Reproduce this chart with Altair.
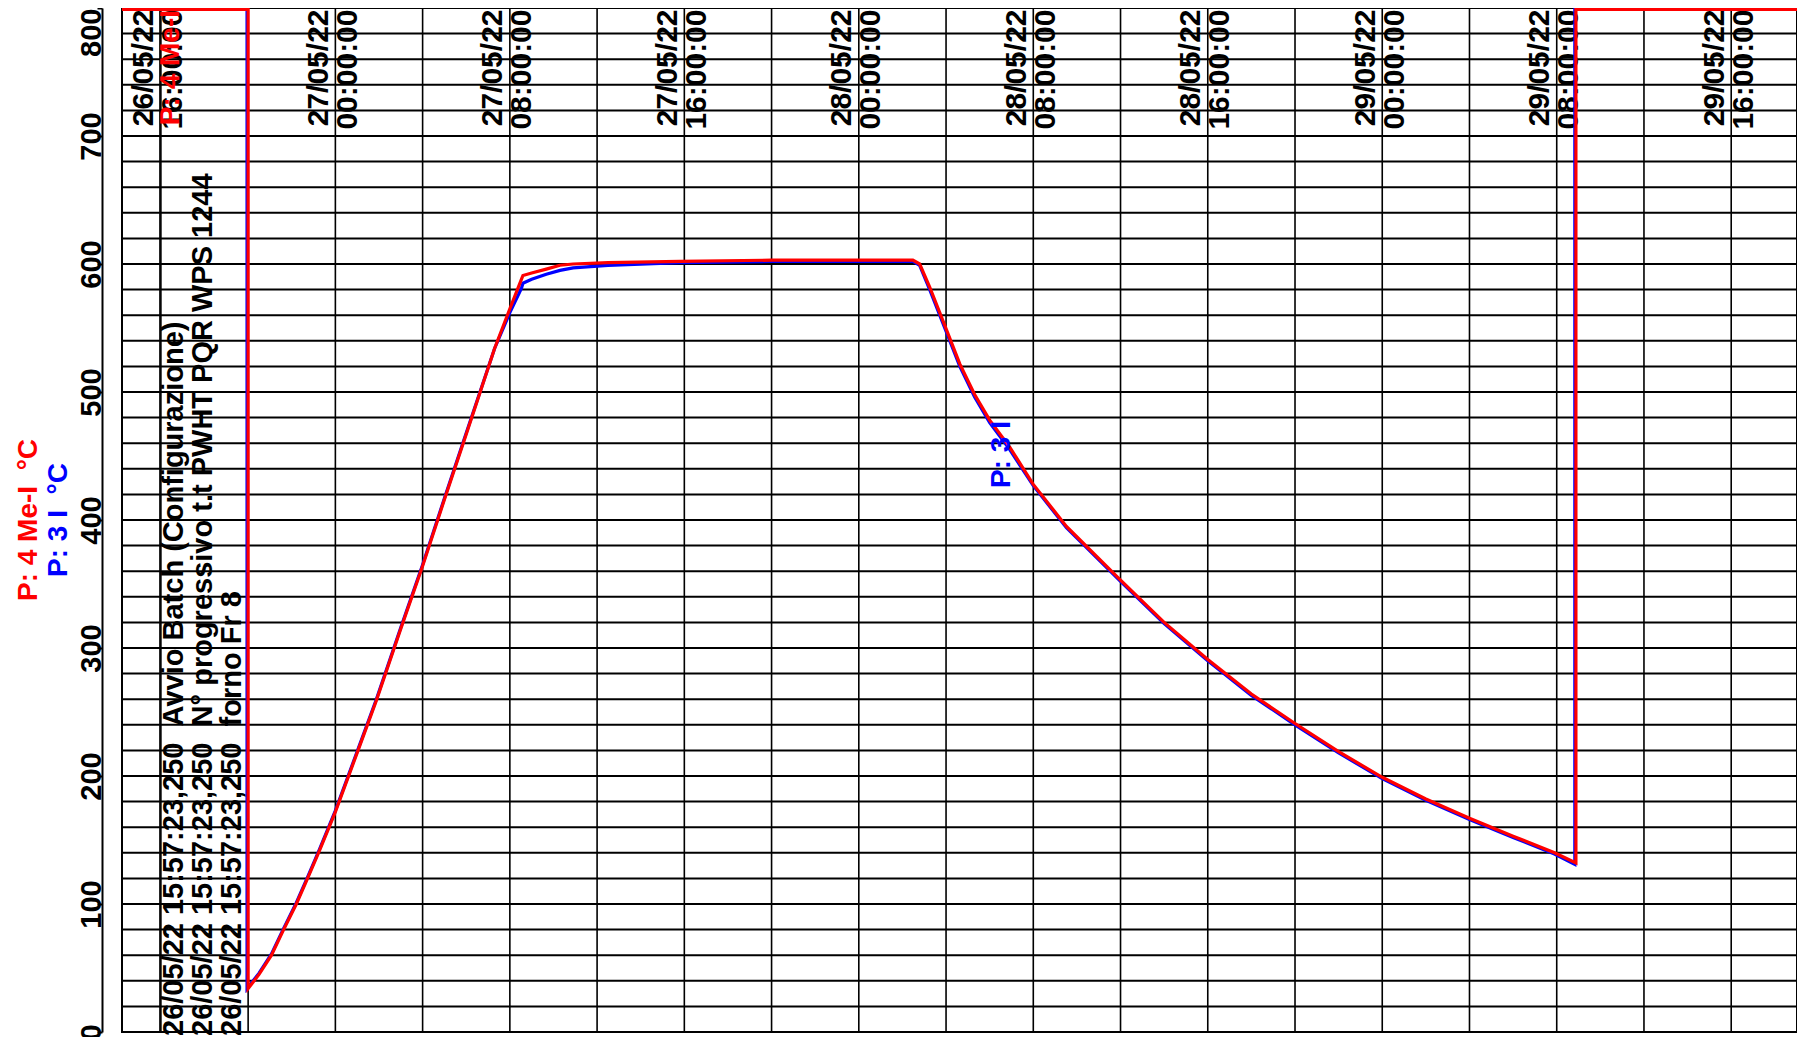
import altair as alt
import pandas as pd

FONT = "Liberation Sans"
RED = "#ff0000"
BLUE = "#0000ff"

# ---- data (hours relative to 27/05/22 00:00:00, temperatures in °C) ----
red_hours = [-9.8, -4.0, -4.0, -3.5, -2.93, -2.4, -1.79, -1.25, -0.72, 0.0,
             1.04, 1.88, 3.0, 4.0, 5.0, 6.0, 7.3, 8.0, 8.53, 8.6,
             9.0, 9.67, 10.3, 10.9, 12.5, 15.8, 20.0, 26.48, 26.79, 27.25,
             27.94, 28.63, 29.31, 30.0, 30.92, 31.99, 33.52, 36.0, 38.0, 40.0,
             42.0, 44.0, 46.0, 48.0, 50.0, 52.0, 54.0, 55.9, 56.88, 56.88,
             68.0]
red_temps = [799, 799, 34, 45, 60, 79, 100, 121, 142, 172,
             220, 259, 315, 364, 416, 467, 534, 565, 588, 591,
             593, 596, 599, 600, 601, 602, 603, 603, 600, 582,
             552, 522, 498, 478, 457, 428, 395, 353, 320, 291,
             264, 241, 219, 199, 182, 167, 153, 140, 132, 799,
             799]

blue_hours = [-9.8, -4.05, -4.05, -3.5, -2.93, -2.4, -1.79, -1.25, -0.72, 0.0,
              1.04, 1.88, 3.0, 4.0, 5.0, 6.0, 7.3, 8.0, 8.53, 8.6,
              9.0, 9.67, 10.3, 10.9, 12.5, 15.8, 20.0, 26.48, 26.79, 27.25,
              27.94, 28.63, 29.31, 30.0, 30.92, 31.99, 33.52, 36.0, 38.0, 40.0,
              42.0, 44.0, 46.0, 48.0, 50.0, 52.0, 54.0, 55.9, 56.83, 56.83,
              68.0]
blue_temps = [799, 799, 34, 46, 61, 80, 101, 122, 143, 173,
              221, 260, 316, 365, 417, 468, 534, 562, 581, 585,
              588, 592, 595, 597, 599, 601, 602, 602, 599, 580,
              550, 520, 496, 476, 455, 427, 394, 352, 319, 290,
              263, 240, 218, 198, 181, 166, 152, 139, 131, 799,
              799]

# grid / tick values
h_grid_values = list(range(0, 801, 20))
y_label_values = [0, 100, 200, 300, 400, 500, 600, 700, 800]
v_grid_times = ["2022-05-26T16:00:00", "2022-05-26T20:00:00",
                "2022-05-27T00:00:00", "2022-05-27T04:00:00", "2022-05-27T08:00:00",
                "2022-05-27T12:00:00", "2022-05-27T16:00:00", "2022-05-27T20:00:00",
                "2022-05-28T00:00:00", "2022-05-28T04:00:00", "2022-05-28T08:00:00",
                "2022-05-28T12:00:00", "2022-05-28T16:00:00", "2022-05-28T20:00:00",
                "2022-05-29T00:00:00", "2022-05-29T04:00:00", "2022-05-29T08:00:00",
                "2022-05-29T12:00:00", "2022-05-29T16:00:00"]
x_label_times = [(26, 16), (27, 0), (27, 8), (27, 16), (28, 0), (28, 8),
                 (28, 16), (29, 0), (29, 8), (29, 16)]

# event annotations
event_time = "2022-05-26T15:57:23"
event_lines = ["26/05/22 15:57:23,250 \u00a0Avvio Batch (Configurazione)",
               "26/05/22 15:57:23,250 \u00a0N° progressivo t.t PWHT PQR WPS 1244",
               "26/05/22 15:57:23,250 \u00a0forno Fr 8"]

# series labels
red_series_label = "P: 4 Me-I"
red_series_label_time = "2022-05-26T16:00:00"
red_series_label_value = 800
blue_series_label = "P: 3 I"
blue_series_label_time = "2022-05-28T06:35:00"
blue_series_label_value = 425
red_axis_title = "P: 4 Me-I \u00a0°C"
blue_axis_title = "P: 3 I \u00a0°C"

# ---- build tables ----
base = pd.Timestamp("2022-05-27 00:00:00")


def to_iso(hours):
    return [(base + pd.Timedelta(hours=h)).strftime("%Y-%m-%dT%H:%M:%S") for h in hours]


red_df = pd.DataFrame({"t": to_iso(red_hours), "v": red_temps, "i": list(range(len(red_hours)))})
blue_df = pd.DataFrame({"t": to_iso(blue_hours), "v": blue_temps, "i": list(range(len(blue_hours)))})
hgrid_df = pd.DataFrame({"v": h_grid_values})
vgrid_df = pd.DataFrame({"t": v_grid_times})
event_df = pd.DataFrame({"t": [event_time], "v": [0], "label": ["\n".join(event_lines)]})
red_lab_df = pd.DataFrame({"t": [red_series_label_time], "v": [red_series_label_value], "label": [red_series_label]})
blue_lab_df = pd.DataFrame({"t": [blue_series_label_time], "v": [blue_series_label_value], "label": [blue_series_label]})

xscale = alt.Scale(domain=[alt.DateTime(year=2022, month=5, date=26, hours=14, minutes=13),
                           alt.DateTime(year=2022, month=5, date=29, hours=19, minutes=1)])
yscale = alt.Scale(domain=[0, 800], nice=False, zero=False)

x_axis = alt.Axis(
    orient="top",
    values=[alt.DateTime(year=2022, month=5, date=d, hours=h) for d, h in x_label_times],
    labelExpr="[timeFormat(datum.value, '%d/%m/%y'), timeFormat(datum.value, '%H:%M:%S')]",
    labelAngle=-90,
    labelAlign="right",
    labelBaseline="middle",
    labelPadding=-1,
    labelOffset=-17,
    labelLineHeight=29,
    labelFont=FONT,
    labelFontSize=30,
    labelFontWeight="bold",
    labelColor="black",
    labelOverlap=False,
    labelBound=False,
    labelFlush=False,
    ticks=False,
    tickSize=0,
    domain=False,
    grid=False,
    title=None,
)

y_axis = alt.Axis(
    orient="left",
    values=y_label_values,
    offset=20,
    labelAngle=-90,
    labelAlign=alt.condition("datum.value >= 800", alt.value("right"), alt.value("center")),
    labelBaseline="alphabetic",
    labelPadding=-3,
    labelFont=FONT,
    labelFontSize=29,
    labelFontWeight="bold",
    labelColor="black",
    labelOverlap=False,
    labelBound=False,
    labelFlush=False,
    ticks=True,
    tickSize=5,
    tickWidth=2,
    tickColor="black",
    domain=True,
    domainColor="black",
    domainWidth=2,
    grid=False,
    title=None,
)

X = lambda: alt.X("t:T", scale=xscale, axis=x_axis)
Y = lambda: alt.Y("v:Q", scale=yscale, axis=y_axis)

hgrid = alt.Chart(hgrid_df).mark_rule(color="black", strokeWidth=2).encode(y=Y())
vgrid = alt.Chart(vgrid_df).mark_rule(color="black", strokeWidth=1.6).encode(x=X())
event_rule = alt.Chart(event_df).mark_rule(color="black", strokeWidth=1.6).encode(x=X())

blue_line = alt.Chart(blue_df).mark_line(color=BLUE, strokeWidth=3.2, clip=True).encode(
    x=X(), y=Y(), order="i:Q",
)
red_line = alt.Chart(red_df).mark_line(color=RED, strokeWidth=3.2, clip=True).encode(
    x=X(), y=Y(), order="i:Q",
)

event_text = alt.Chart(event_df).mark_text(
    angle=270, align="left", baseline="top", lineBreak="\n", lineHeight=29,
    font=FONT, fontSize=29, fontWeight="bold", color="black", dx=-4, dy=0,
).encode(x=X(), y=Y(), text="label:N")

red_label = alt.Chart(red_lab_df).mark_text(
    angle=270, align="right", baseline="top",
    font=FONT, fontSize=28, fontWeight="bold", color=RED, dx=-2, dy=-4,
).encode(x=X(), y=Y(), text="label:N")

blue_label = alt.Chart(blue_lab_df).mark_text(
    angle=270, align="left", baseline="middle",
    font=FONT, fontSize=28, fontWeight="bold", color=BLUE,
).encode(x=X(), y=Y(), text="label:N")

title_red = alt.Chart(pd.DataFrame({"label": [red_axis_title]})).mark_text(
    angle=270, align="center", baseline="middle",
    font=FONT, fontSize=28, fontWeight="bold", color=RED,
).encode(x=alt.value(-93), y=alt.value(512), text="label:N")

title_blue = alt.Chart(pd.DataFrame({"label": [blue_axis_title]})).mark_text(
    angle=270, align="center", baseline="middle",
    font=FONT, fontSize=28, fontWeight="bold", color=BLUE,
).encode(x=alt.value(-63), y=alt.value(512), text="label:N")

chart = alt.layer(
    hgrid, vgrid, event_rule, blue_line, red_line,
    event_text, red_label, blue_label, title_red, title_blue,
).properties(
    width=1675,
    height=1024,
    autosize=alt.AutoSizeParams(type="none"),
    padding={"left": 114, "top": 0, "right": 0, "bottom": 5},
    background="white",
).configure_view(stroke="black", strokeWidth=2)

chart.save("out.html", embed_options={"renderer": "svg", "actions": False})
